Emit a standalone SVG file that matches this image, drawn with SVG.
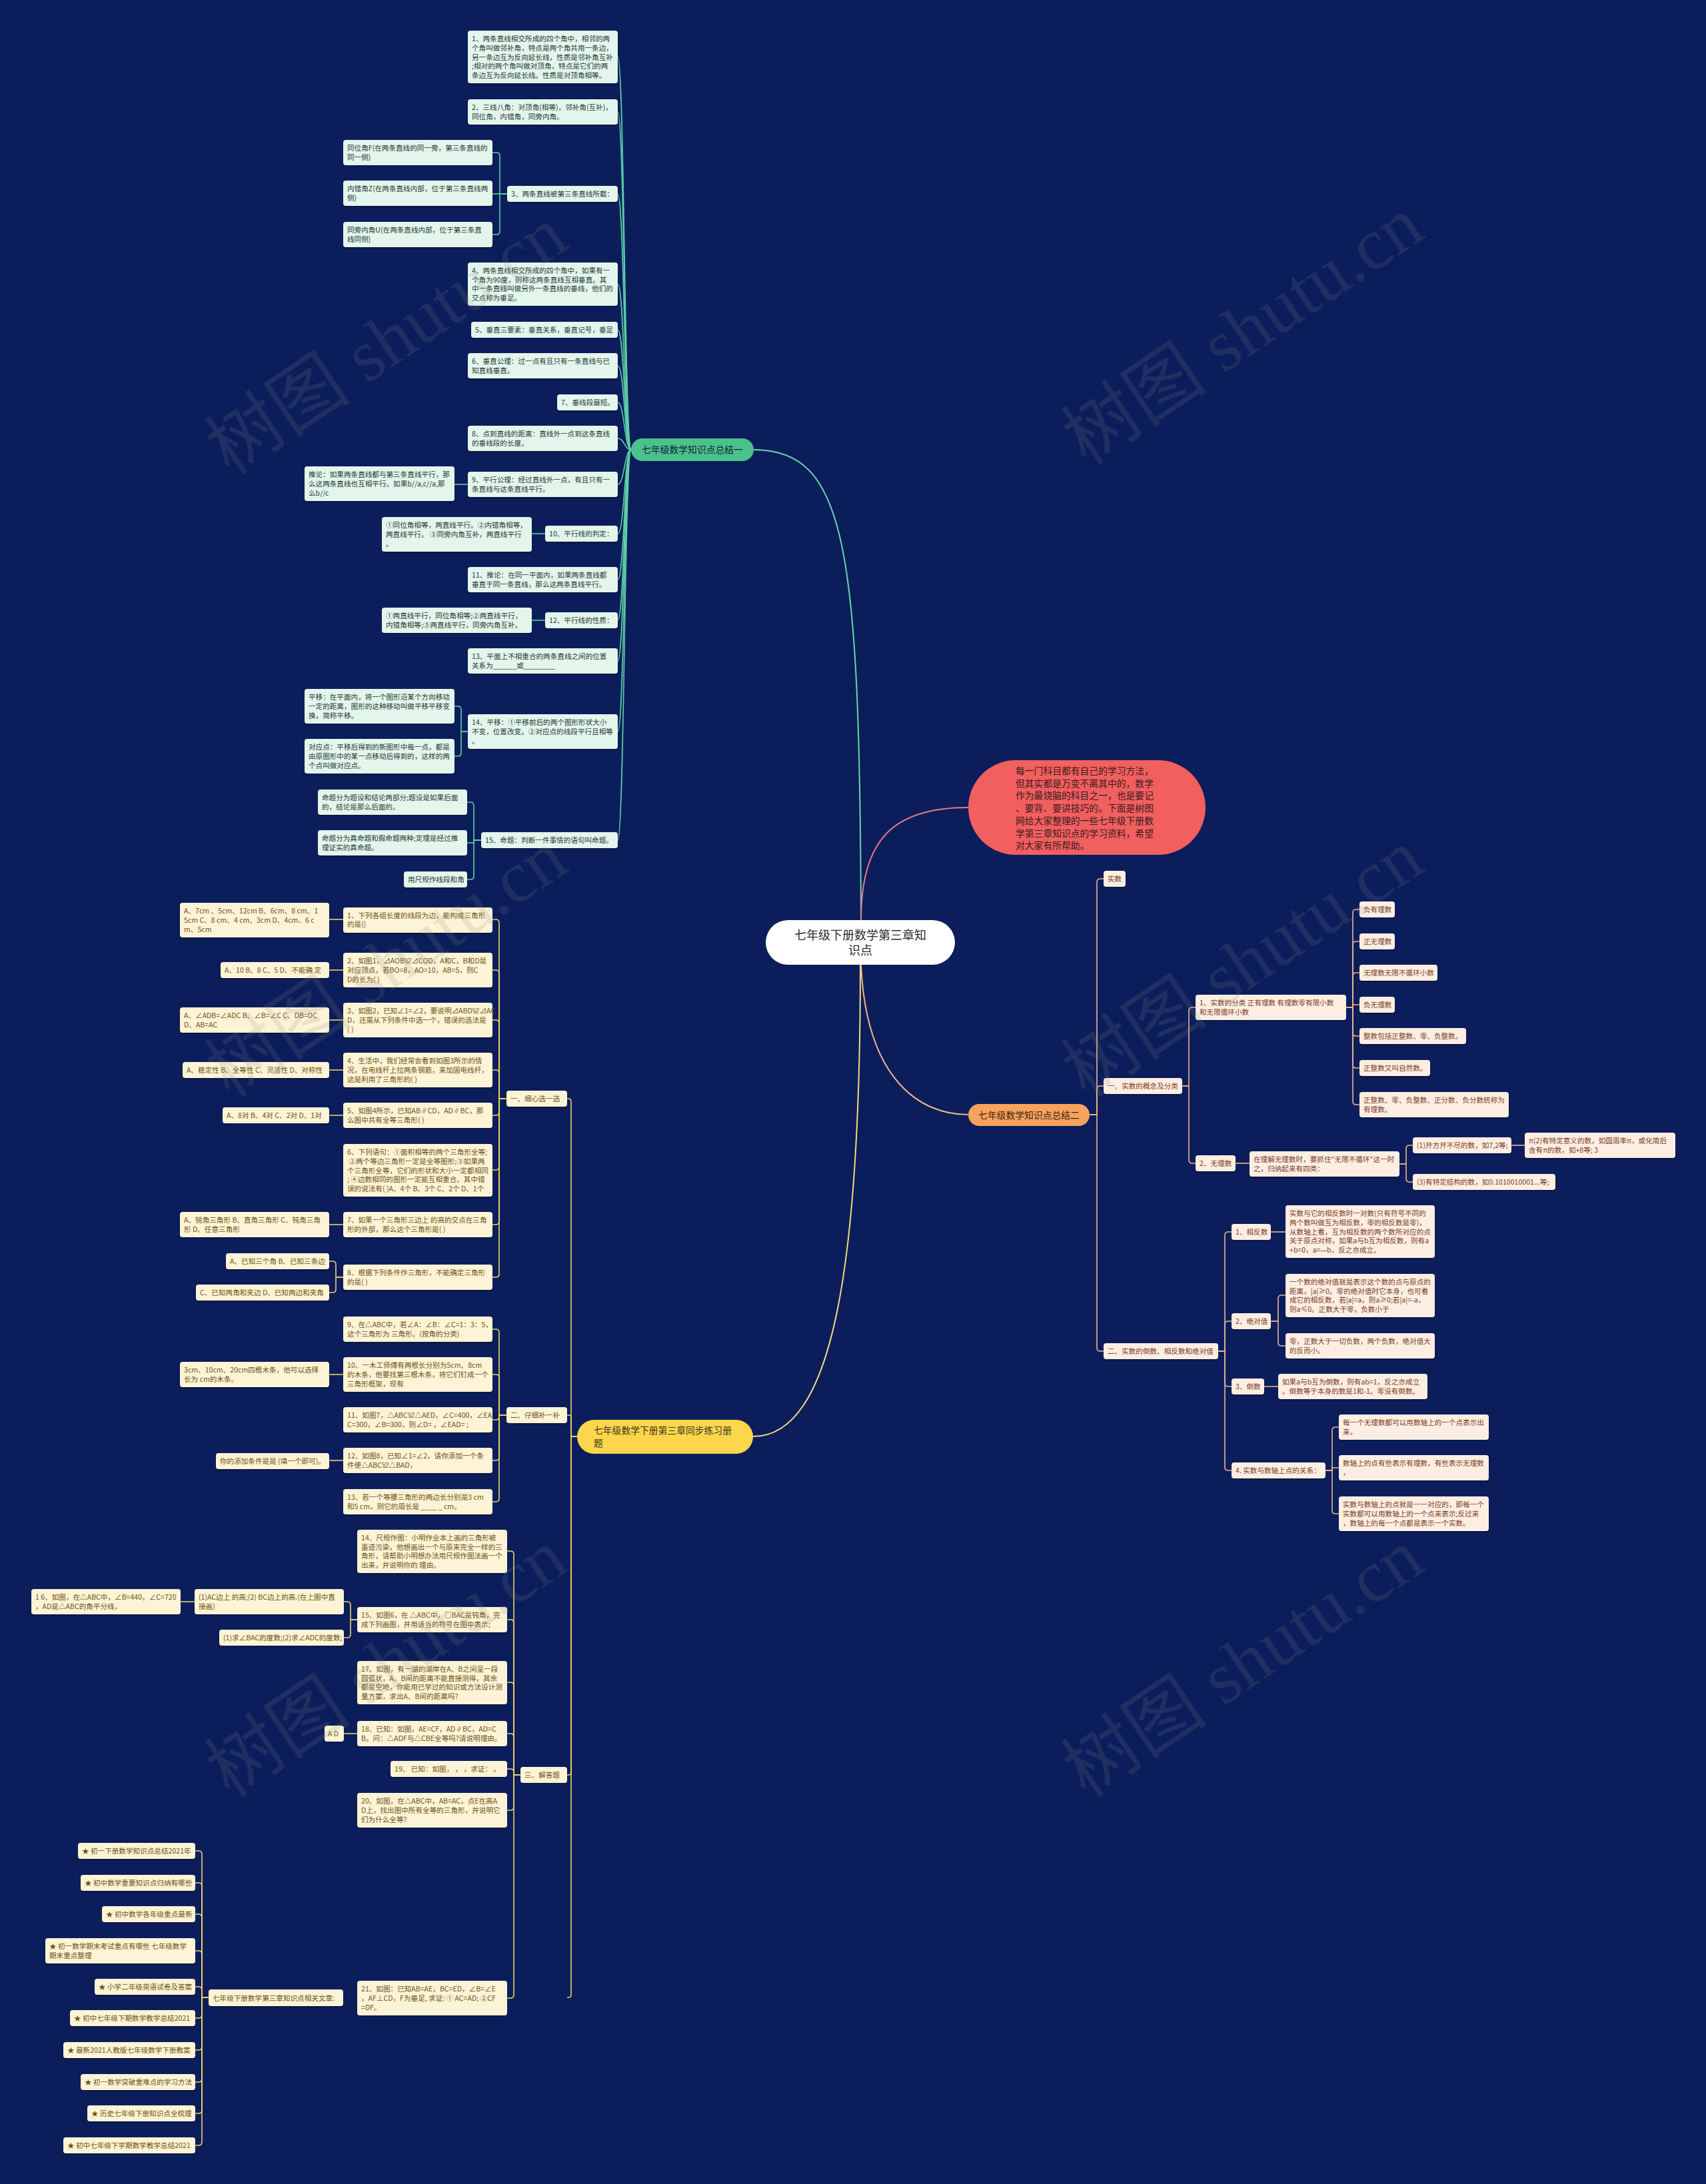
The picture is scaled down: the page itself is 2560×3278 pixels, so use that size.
<svg xmlns="http://www.w3.org/2000/svg" width="2560" height="3278" viewBox="0 0 2560 3278">
<defs>
<filter id="sh" x="-5%" y="-20%" width="110%" height="150%"><feDropShadow dx="0" dy="1.5" stdDeviation="1" flood-color="#000" flood-opacity="0.35"/></filter>
<style>
text{font-family:"Noto Sans CJK SC","Noto Sans",sans-serif;font-size:10.6px}
rect.g,rect.y,rect.o{filter:url(#sh)}
.g{fill:#e4f5ec}.gt{fill:#1d3b36}
.y{fill:#fdf3d6}.yt{fill:#6b5414}
.o{fill:#fdeee3}.ot{fill:#7a3e1e}
.big{font-size:13.8px}
.cg{fill:none;stroke:#5fcfa6;stroke-width:1.6}
.cy{fill:none;stroke:#efd06a;stroke-width:1.6}
.co{fill:none;stroke:#eeb38e;stroke-width:1.6}
.wm{font-family:"Liberation Serif","Noto Sans CJK SC",serif;font-size:110px;fill:#8a8a8a;opacity:0.16}
</style>
</defs>
<rect x="0" y="0" width="2560" height="3278" fill="#0b1e5b"/>

<g id="connectors">
<path d="M1292 1381 C1290 820 1270 675 1131 675" fill="none" stroke="#6ad4b0" stroke-width="2"/>
<path d="M1292 1381 C1292 1260 1340 1212 1453 1212" fill="none" stroke="#e8788a" stroke-width="2"/>
<path d="M1292 1448 C1300 1620 1380 1673 1453 1673" fill="none" stroke="#f3b58c" stroke-width="2"/>
<path d="M1291 1448 C1291 1900 1250 2156 1130 2156" fill="none" stroke="#f5dc7a" stroke-width="2"/>
<g class="cg">
<path d="M947 675 C937 675 937 85.5 927 85.5"/>
<path d="M947 675 C937 675 937 168 927 168"/>
<path d="M947 675 C937 675 937 291 927 291"/>
<path d="M947 675 C937 675 937 426.5 927 426.5"/>
<path d="M947 675 C937 675 937 495 927 495"/>
<path d="M947 675 C937 675 937 549 927 549"/>
<path d="M947 675 C937 675 937 604 927 604"/>
<path d="M947 675 C937 675 937 658 927 658"/>
<path d="M947 675 C937 675 937 727 927 727"/>
<path d="M947 675 C937 675 937 801 927 801"/>
<path d="M947 675 C937 675 937 870 927 870"/>
<path d="M947 675 C937 675 937 931 927 931"/>
<path d="M947 675 C937 675 937 992 927 992"/>
<path d="M947 675 C937 675 937 1098 927 1098"/>
<path d="M947 675 C937 675 937 1261 927 1261"/>
<path d="M761 291 H750 V234 Q750 229 745 229 H739"/>
<path d="M761 291 H739"/>
<path d="M761 291 H750 V347 Q750 352 745 352 H739"/>
<path d="M702 727 H682"/>
<path d="M818 801 H798"/>
<path d="M818 931 H798"/>
<path d="M702 1098 H692 V1065 Q692 1060 687 1060 H682"/>
<path d="M702 1098 H692 V1130 Q692 1135 687 1135 H682"/>
<path d="M722 1261 H711 V1209 Q711 1204 706 1204 H701"/>
<path d="M722 1261 H711 V1265 H701"/>
<path d="M722 1261 H711 V1315 Q711 1320 706 1320 H701"/>
</g>
<g class="co">
<path d="M1635 1673 H1646 V1324 Q1646 1319 1651 1319 H1656"/>
<path d="M1635 1673 H1646 V1635 Q1646 1630 1651 1630 H1656"/>
<path d="M1635 1673 H1646 V2023 Q1646 2028 1651 2028 H1656"/>
<path d="M1774 1630 H1784 V1517 Q1784 1512 1789 1512 H1794"/>
<path d="M1774 1630 H1784 V1741 Q1784 1746 1789 1746 H1794"/>
<path d="M2020 1512 H2030 V1370 Q2030 1365 2035 1365 H2040"/>
<path d="M2020 1512 H2030 V1418 Q2030 1413 2035 1413 H2040"/>
<path d="M2020 1512 H2030 V1465 Q2030 1460 2035 1460 H2040"/>
<path d="M2020 1512 H2030 V1508 H2040"/>
<path d="M2020 1512 H2030 V1550 Q2030 1555 2035 1555 H2040"/>
<path d="M2020 1512 H2030 V1598 Q2030 1603 2035 1603 H2040"/>
<path d="M2020 1512 H2030 V1653 Q2030 1658 2035 1658 H2040"/>
<path d="M1854 1746 H1875"/>
<path d="M2100 1747 H2110 V1724 Q2110 1719 2115 1719 H2120"/>
<path d="M2100 1747 H2110 V1769 Q2110 1774 2115 1774 H2120"/>
<path d="M2268 1719 H2288"/>
<path d="M1828 2028 H1838 V1854 Q1838 1849 1843 1849 H1848"/>
<path d="M1828 2028 H1838 V1988 Q1838 1983 1843 1983 H1848"/>
<path d="M1828 2028 H1838 V2076 Q1838 2081 1843 2081 H1848"/>
<path d="M1828 2028 H1838 V2202 Q1838 2207 1843 2207 H1848"/>
<path d="M1907 1849 H1929"/>
<path d="M1907 1983 H1918 V1949 Q1918 1944 1923 1944 H1929"/>
<path d="M1907 1983 H1918 V2015 Q1918 2020 1923 2020 H1929"/>
<path d="M1897 2081 H1918"/>
<path d="M1989 2207 H1999 V2147 Q1999 2142 2004 2142 H2009"/>
<path d="M1989 2207 H1999 V2203 H2009"/>
<path d="M1989 2207 H1999 V2267 Q1999 2272 2004 2272 H2009"/>
</g>
<g class="cy">
<path d="M866 2156 H857 V1653 Q857 1649 853 1649 H851"/>
<path d="M866 2156 H857 V2128 Q857 2124 853 2124 H851"/>
<path d="M866 2156 H857 V2660 Q857 2664 853 2664 H851"/>
<path d="M866 2156 H857 V2994 Q857 2998 853 2998 H851"/>
<path d="M760 1649 H749 V1385 Q749 1380 744 1380 H739"/>
<path d="M760 1649 H749 V1461 Q749 1456 744 1456 H739"/>
<path d="M760 1649 H749 V1536 Q749 1531 744 1531 H739"/>
<path d="M760 1649 H749 V1611 Q749 1606 744 1606 H739"/>
<path d="M760 1649 H749 V1669 Q749 1674 744 1674 H739"/>
<path d="M760 1649 H749 V1751 Q749 1756 744 1756 H739"/>
<path d="M760 1649 H749 V1833 Q749 1838 744 1838 H739"/>
<path d="M760 1649 H749 V1912 Q749 1917 744 1917 H739"/>
<path d="M515 1380 H494"/>
<path d="M515 1456 H494"/>
<path d="M515 1531 H494"/>
<path d="M515 1606 H494"/>
<path d="M515 1674 H494"/>
<path d="M515 1838 H494"/>
<path d="M515 1917 H504 V1898 Q504 1893 499 1893 H494"/>
<path d="M515 1917 H504 V1935 Q504 1940 499 1940 H494"/>
<path d="M760 2124 H749 V2000 Q749 1995 744 1995 H739"/>
<path d="M760 2124 H749 V2068 Q749 2063 744 2063 H739"/>
<path d="M760 2124 H749 V2126 Q749 2131 744 2131 H739"/>
<path d="M760 2124 H749 V2187 Q749 2192 744 2192 H739"/>
<path d="M760 2124 H749 V2249 Q749 2254 744 2254 H739"/>
<path d="M515 2063 H494"/>
<path d="M515 2192 H494"/>
<path d="M781 2664 H771 V2333 Q771 2328 766 2328 H761"/>
<path d="M781 2664 H771 V2436 Q771 2431 766 2431 H761"/>
<path d="M781 2664 H771 V2530 Q771 2525 766 2525 H761"/>
<path d="M781 2664 H771 V2607 Q771 2602 766 2602 H761"/>
<path d="M781 2664 H771 V2660 Q771 2655 766 2655 H761"/>
<path d="M781 2664 H771 V2712 Q771 2717 766 2717 H761"/>
<path d="M781 2664 H771 V2994 Q771 2999 766 2999 H761"/>
<path d="M536 2431 H526 V2409 Q526 2404 521 2404 H516"/>
<path d="M536 2431 H526 V2453 Q526 2458 521 2458 H516"/>
<path d="M292 2404 H271"/>
<path d="M536 2602 H516"/>
<path d="M313 2998 H303 V2783 Q303 2778 298 2778 H293"/>
<path d="M313 2998 H303 V2831 Q303 2826 298 2826 H293"/>
<path d="M313 2998 H303 V2878 Q303 2873 298 2873 H293"/>
<path d="M313 2998 H303 V2933 Q303 2928 298 2928 H293"/>
<path d="M313 2998 H303 V2987 Q303 2982 298 2982 H293"/>
<path d="M313 2998 H303 V3024 Q303 3029 298 3029 H293"/>
<path d="M313 2998 H303 V3072 Q303 3077 298 3077 H293"/>
<path d="M313 2998 H303 V3120 Q303 3125 298 3125 H293"/>
<path d="M313 2998 H303 V3167 Q303 3172 298 3172 H293"/>
<path d="M313 2998 H303 V3215 Q303 3220 298 3220 H293"/>
</g>
</g>

<g id="center"><rect x="1149" y="1381" width="284" height="67" rx="33.5" fill="#ffffff"/><text text-anchor="middle" style="font-size:18px" fill="#2a2a2a"><tspan x="1291" y="1409.5">七年级下册数学第三章知</tspan><tspan x="1291" y="1432.5">识点</tspan></text></g>

<g id="intro"><rect x="1453" y="1141" width="356" height="142" rx="71" fill="#f25f5f"/><text class="big" fill="#3a1a1e"><tspan x="1524" y="1162">每一门科目都有自己的学习方法，</tspan><tspan x="1524" y="1180.7">但其实都是万变不离其中的，数学</tspan><tspan x="1524" y="1199.4">作为最烧脑的科目之一，也是要记</tspan><tspan x="1524" y="1218.1">、要背、要讲技巧的。下面是树图</tspan><tspan x="1524" y="1236.8">网给大家整理的一些七年级下册数</tspan><tspan x="1524" y="1255.5">学第三章知识点的学习资料，希望</tspan><tspan x="1524" y="1274.2">对大家有所帮助。</tspan></text></g>

<g id="branch-green"><rect x="947" y="658" width="184" height="34" rx="17" fill="#4bc18c"/><text class="big" text-anchor="middle" fill="#10233a"><tspan x="1039" y="680.2">七年级数学知识点总结一</tspan></text></g>
<g id="branch-orange"><rect x="1453" y="1657" width="182" height="33" rx="16.5" fill="#f7a35e"/><text class="big" text-anchor="middle" fill="#3f230e"><tspan x="1544" y="1678.7">七年级数学知识点总结二</tspan></text></g>
<g id="branch-yellow"><rect x="866" y="2131" width="264" height="51" rx="25.5" fill="#fdd64b"/><text class="big" fill="#3b3320"><tspan x="891" y="2152">七年级数学下册第三章同步练习册</tspan><tspan x="891" y="2171">题</tspan></text></g>

<!-- green items -->
<g id="g1"><rect class="g" x="702" y="46" width="225" height="79" rx="4"/><text class="gt"><tspan x="708" y="61.9">1、两条直线相交所成的四个角中，相邻的两</tspan><tspan x="708" y="75.7">个角叫做邻补角，特点是两个角共用一条边，</tspan><tspan x="708" y="89.5">另一条边互为反向延长线，性质是邻补角互补</tspan><tspan x="708" y="103.3">;相对的两个角叫做对顶角，特点是它们的两</tspan><tspan x="708" y="117.1">条边互为反向延长线。性质是对顶角相等。</tspan></text></g>
<g id="g2"><rect class="g" x="702" y="149" width="225" height="38" rx="4"/><text class="gt"><tspan x="708" y="165.1">2、三线八角：对顶角(相等)，邻补角(互补)，</tspan><tspan x="708" y="178.9">同位角，内错角，同旁内角。</tspan></text></g>
<g id="g3"><rect class="g" x="761" y="279" width="166" height="24" rx="4"/><text class="gt"><tspan x="767" y="295">3、两条直线被第三条直线所截：</tspan></text></g>
<g id="g3a"><rect class="g" x="515" y="210" width="224" height="38" rx="4"/><text class="gt"><tspan x="521" y="226.1">同位角F(在两条直线的同一旁，第三条直线的</tspan><tspan x="521" y="239.9">同一侧)</tspan></text></g>
<g id="g3b"><rect class="g" x="515" y="271" width="224" height="38" rx="4"/><text class="gt"><tspan x="521" y="287.1">内错角Z(在两条直线内部，位于第三条直线两</tspan><tspan x="521" y="300.9">侧)</tspan></text></g>
<g id="g3c"><rect class="g" x="515" y="333" width="224" height="38" rx="4"/><text class="gt"><tspan x="521" y="349.1">同旁内角U(在两条直线内部，位于第三条直</tspan><tspan x="521" y="362.9">线同侧)</tspan></text></g>
<g id="g4"><rect class="g" x="702" y="394" width="225" height="65" rx="4"/><text class="gt"><tspan x="708" y="409.8">4、两条直线相交所成的四个角中，如果有一</tspan><tspan x="708" y="423.6">个角为90度，则称这两条直线互相垂直。其</tspan><tspan x="708" y="437.4">中一条直线叫做另外一条直线的垂线，他们的</tspan><tspan x="708" y="451.2">交点称为垂足。</tspan></text></g>
<g id="g5"><rect class="g" x="707" y="483" width="220" height="24" rx="4"/><text class="gt"><tspan x="713" y="499">5、垂直三要素：垂直关系，垂直记号，垂足</tspan></text></g>
<g id="g6"><rect class="g" x="702" y="530" width="225" height="38" rx="4"/><text class="gt"><tspan x="708" y="546.1">6、垂直公理：过一点有且只有一条直线与已</tspan><tspan x="708" y="559.9">知直线垂直。</tspan></text></g>
<g id="g7"><rect class="g" x="836" y="592" width="91" height="24" rx="4"/><text class="gt"><tspan x="842" y="608">7、垂线段最短。</tspan></text></g>
<g id="g8"><rect class="g" x="702" y="639" width="225" height="38" rx="4"/><text class="gt"><tspan x="708" y="655.1">8、点到直线的距离：直线外一点到这条直线</tspan><tspan x="708" y="668.9">的垂线段的长度。</tspan></text></g>
<g id="g9"><rect class="g" x="702" y="708" width="225" height="38" rx="4"/><text class="gt"><tspan x="708" y="724.1">9、平行公理：经过直线外一点，有且只有一</tspan><tspan x="708" y="737.9">条直线与这条直线平行。</tspan></text></g>
<g id="g9a"><rect class="g" x="457" y="700" width="225" height="52" rx="4"/><text class="gt"><tspan x="463" y="716.2">推论：如果两条直线都与第三条直线平行，那</tspan><tspan x="463" y="730">么这两条直线也互相平行。如果b//a,c//a,那</tspan><tspan x="463" y="743.8">么b//c</tspan></text></g>
<g id="g10"><rect class="g" x="818" y="789" width="109" height="24" rx="4"/><text class="gt"><tspan x="824" y="805">10、平行线的判定：</tspan></text></g>
<g id="g10a"><rect class="g" x="573" y="776" width="225" height="52" rx="4"/><text class="gt"><tspan x="579" y="792.2">①同位角相等，两直线平行。②内错角相等，</tspan><tspan x="579" y="806">两直线平行。 ③同旁内角互补，两直线平行</tspan><tspan x="579" y="819.8">。</tspan></text></g>
<g id="g11"><rect class="g" x="702" y="851" width="225" height="38" rx="4"/><text class="gt"><tspan x="708" y="867.1">11、推论：在同一平面内，如果两条直线都</tspan><tspan x="708" y="880.9">垂直于同一条直线，那么这两条直线平行。</tspan></text></g>
<g id="g12"><rect class="g" x="818" y="919" width="109" height="24" rx="4"/><text class="gt"><tspan x="824" y="935">12、平行线的性质：</tspan></text></g>
<g id="g12a"><rect class="g" x="573" y="912" width="225" height="38" rx="4"/><text class="gt"><tspan x="579" y="928.1">①两直线平行，同位角相等;②两直线平行，</tspan><tspan x="579" y="941.9">内错角相等;③两直线平行，同旁内角互补。</tspan></text></g>
<g id="g13"><rect class="g" x="702" y="973" width="225" height="38" rx="4"/><text class="gt"><tspan x="708" y="989.1">13、平面上不相重合的两条直线之间的位置</tspan><tspan x="708" y="1002.9">关系为______或________</tspan></text></g>
<g id="g14"><rect class="g" x="702" y="1072" width="225" height="52" rx="4"/><text class="gt"><tspan x="708" y="1088.2">14、平移：①平移前后的两个图形形状大小</tspan><tspan x="708" y="1102">不变，位置改变。②对应点的线段平行且相等</tspan><tspan x="708" y="1115.8">。</tspan></text></g>
<g id="g14a"><rect class="g" x="457" y="1034" width="225" height="52" rx="4"/><text class="gt"><tspan x="463" y="1050.2">平移：在平面内，将一个图形沿某个方向移动</tspan><tspan x="463" y="1064">一定的距离，图形的这种移动叫做平移平移变</tspan><tspan x="463" y="1077.8">换，简称平移。</tspan></text></g>
<g id="g14b"><rect class="g" x="457" y="1109" width="225" height="52" rx="4"/><text class="gt"><tspan x="463" y="1125.2">对应点：平移后得到的新图形中每一点，都是</tspan><tspan x="463" y="1139">由原图形中的某一点移动后得到的，这样的两</tspan><tspan x="463" y="1152.8">个点叫做对应点。</tspan></text></g>
<g id="g15"><rect class="g" x="722" y="1249" width="205" height="24" rx="4"/><text class="gt"><tspan x="728" y="1265">15、命题：判断一件事情的语句叫命题。</tspan></text></g>
<g id="g15a"><rect class="g" x="477" y="1185" width="224" height="38" rx="4"/><text class="gt"><tspan x="483" y="1201.1">命题分为题设和结论两部分;题设是如果后面</tspan><tspan x="483" y="1214.9">的，结论是那么后面的。</tspan></text></g>
<g id="g15b"><rect class="g" x="477" y="1246" width="224" height="38" rx="4"/><text class="gt"><tspan x="483" y="1262.1">命题分为真命题和假命题两种;定理是经过推</tspan><tspan x="483" y="1275.9">理证实的真命题。</tspan></text></g>
<g id="g15c"><rect class="g" x="606" y="1308" width="95" height="24" rx="4"/><text class="gt"><tspan x="612" y="1324">用尺规作线段和角</tspan></text></g>

<!-- yellow items -->
<g id="y1"><rect class="y" x="760" y="1637" width="91" height="24" rx="4"/><text class="yt"><tspan x="766" y="1653">一、细心选一选</tspan></text></g>
<g id="y1-1"><rect class="y" x="515" y="1362" width="224" height="38" rx="4"/><text class="yt"><tspan x="521" y="1377.6">1、下列各组长度的线段为边，能构成三角形</tspan><tspan x="521" y="1391.4">的是()</tspan></text></g>
<g id="y1-1a"><rect class="y" x="270" y="1355" width="224" height="52" rx="4"/><text class="yt"><tspan x="276" y="1371.2">A、7cm 、5cm、12cm B、6cm、8 cm、1</tspan><tspan x="276" y="1385">5cm C、8 cm、4 cm、3cm D、4cm、6 c</tspan><tspan x="276" y="1398.8">m、5cm</tspan></text></g>
<g id="y1-2"><rect class="y" x="515" y="1430" width="224" height="52" rx="4"/><text class="yt"><tspan x="521" y="1446.2">2、如图1，⊿AOB≌⊿COD，A和C，B和D是</tspan><tspan x="521" y="1460">对应顶点，若BO=8，AO=10，AB=5，则C</tspan><tspan x="521" y="1473.8">D的长为( )</tspan></text></g>
<g id="y1-2a"><rect class="y" x="331" y="1444" width="163" height="24" rx="4"/><text class="yt"><tspan x="337" y="1460">A、10 B、8 C、5 D、不能确 定</tspan></text></g>
<g id="y1-3"><rect class="y" x="515" y="1505" width="224" height="52" rx="4"/><text class="yt"><tspan x="521" y="1521.2">3、如图2，已知∠1=∠2，要说明⊿ABD≌⊿AC</tspan><tspan x="521" y="1535">D，还需从下列条件中选一个，错误的选法是</tspan><tspan x="521" y="1548.8">( )</tspan></text></g>
<g id="y1-3a"><rect class="y" x="270" y="1512" width="224" height="38" rx="4"/><text class="yt"><tspan x="276" y="1528.1">A、∠ADB=∠ADC B、∠B=∠C C、DB=DC</tspan><tspan x="276" y="1541.9">D、AB=AC</tspan></text></g>
<g id="y1-4"><rect class="y" x="515" y="1580" width="224" height="52" rx="4"/><text class="yt"><tspan x="521" y="1596.2">4、生活中，我们经常会看到如图3所示的情</tspan><tspan x="521" y="1610">况，在电线杆上拉两条钢筋，来加固电线杆，</tspan><tspan x="521" y="1623.8">这是利用了三角形的( )</tspan></text></g>
<g id="y1-4a"><rect class="y" x="274" y="1594" width="220" height="24" rx="4"/><text class="yt"><tspan x="280" y="1610">A、稳定性 B、全等性 C、灵活性 D、对称性</tspan></text></g>
<g id="y1-5"><rect class="y" x="515" y="1655" width="224" height="38" rx="4"/><text class="yt"><tspan x="521" y="1671.1">5、如图4所示，已知AB∥CD，AD∥BC，那</tspan><tspan x="521" y="1684.9">么图中共有全等三角形( )</tspan></text></g>
<g id="y1-5a"><rect class="y" x="334" y="1662" width="160" height="24" rx="4"/><text class="yt"><tspan x="340" y="1678">A、8对 B、4对 C、2对 D、1对</tspan></text></g>
<g id="y1-6"><rect class="y" x="515" y="1717" width="224" height="79" rx="4"/><text class="yt"><tspan x="521" y="1732.9">6、下列语句：①面积相等的两个三角形全等;</tspan><tspan x="521" y="1746.7"> ②两个等边三角形一定是全等图形;③如果两</tspan><tspan x="521" y="1760.5">个三角形全等，它们的形状和大小一定都相同</tspan><tspan x="521" y="1774.3">; ④边数相同的图形一定能互相重合。其中错</tspan><tspan x="521" y="1788.1">误的说法有( )A、4个 B、3个 C、2个 D、1个</tspan></text></g>
<g id="y1-7"><rect class="y" x="515" y="1819" width="224" height="38" rx="4"/><text class="yt"><tspan x="521" y="1835.1">7、如果一个三角形三边上 的高的交点在三角</tspan><tspan x="521" y="1848.9">形的外部，那么这个三角形是( )</tspan></text></g>
<g id="y1-7a"><rect class="y" x="270" y="1819" width="224" height="38" rx="4"/><text class="yt"><tspan x="276" y="1835.1">A、锐角三角形 B、直角三角形 C、钝角三角</tspan><tspan x="276" y="1848.9">形 D、任意三角形</tspan></text></g>
<g id="y1-8"><rect class="y" x="515" y="1898" width="224" height="38" rx="4"/><text class="yt"><tspan x="521" y="1914.1">8、根据下列条件作三角形，不能确定三角形</tspan><tspan x="521" y="1927.9">的是( )</tspan></text></g>
<g id="y1-8a"><rect class="y" x="339" y="1881" width="155" height="24" rx="4"/><text class="yt"><tspan x="345" y="1897">A、已知三个角 B、已知三条边</tspan></text></g>
<g id="y1-8b"><rect class="y" x="294" y="1928" width="200" height="24" rx="4"/><text class="yt"><tspan x="300" y="1944">C、已知两角和夹边 D、已知两边和夹角</tspan></text></g>

<g id="y2"><rect class="y" x="760" y="2112" width="91" height="24" rx="4"/><text class="yt"><tspan x="766" y="2128">二、仔细补一补</tspan></text></g>
<g id="y2-9"><rect class="y" x="515" y="1976" width="224" height="38" rx="4"/><text class="yt"><tspan x="521" y="1992.1">9、在△ABC中，若∠A：∠B：∠C=1：3：5，</tspan><tspan x="521" y="2005.9">这个三角形为 三角形。(按角的分类)</tspan></text></g>
<g id="y2-10"><rect class="y" x="515" y="2037" width="224" height="52" rx="4"/><text class="yt"><tspan x="521" y="2053.2">10、一木工师傅有两根长分别为5cm、8cm</tspan><tspan x="521" y="2067">的木条，他要找第三根木条，将它们钉成一个</tspan><tspan x="521" y="2080.8">三角形框架，现有</tspan></text></g>
<g id="y2-10a"><rect class="y" x="270" y="2044" width="224" height="38" rx="4"/><text class="yt"><tspan x="276" y="2060.1">3cm、10cm、20cm四根木条，他可以选择</tspan><tspan x="276" y="2073.9">长为 cm的木条。</tspan></text></g>
<g id="y2-11"><rect class="y" x="515" y="2112" width="224" height="38" rx="4"/><text class="yt"><tspan x="521" y="2128.1">11、如图7，△ABC≌△AED，∠C=400，∠EA</tspan><tspan x="521" y="2141.9">C=300，∠B=300，则∠D= ，∠EAD= ;</tspan></text></g>
<g id="y2-12"><rect class="y" x="515" y="2173" width="224" height="38" rx="4"/><text class="yt"><tspan x="521" y="2189.1">12、如图8，已知∠1=∠2，请你添加一个条</tspan><tspan x="521" y="2202.9">件使△ABC≌△BAD，</tspan></text></g>
<g id="y2-12a"><rect class="y" x="324" y="2181" width="170" height="24" rx="4"/><text class="yt"><tspan x="330" y="2197">你的添加条件是是 (填一个即可)。</tspan></text></g>
<g id="y2-13"><rect class="y" x="515" y="2235" width="224" height="38" rx="4"/><text class="yt"><tspan x="521" y="2251.1">13、若一个等腰三角形的两边长分别是3 cm</tspan><tspan x="521" y="2264.9">和5 cm，则它的周长是 ____ _ cm。</tspan></text></g>

<g id="y3"><rect class="y" x="781" y="2652" width="70" height="24" rx="4"/><text class="yt"><tspan x="787" y="2668">三、解答题</tspan></text></g>
<g id="y3-14"><rect class="y" x="536" y="2296" width="225" height="65" rx="4"/><text class="yt"><tspan x="542" y="2311.8">14、尺规作图：小明作业本上画的三角形被</tspan><tspan x="542" y="2325.6">墨迹污染，他想画出一个与原来完全一样的三</tspan><tspan x="542" y="2339.4">角形，请帮助小明想办法用尺规作图法画一个</tspan><tspan x="542" y="2353.2">出来，并说明你的 理由。</tspan></text></g>
<g id="y3-15"><rect class="y" x="536" y="2412" width="225" height="38" rx="4"/><text class="yt"><tspan x="542" y="2428.1">15、如图6，在 △ABC中，□BAC是钝角，完</tspan><tspan x="542" y="2441.9">成下列画图，并用适当的符号在图中表示;</tspan></text></g>
<g id="y3-15a"><rect class="y" x="292" y="2385" width="224" height="38" rx="4"/><text class="yt"><tspan x="298" y="2401.1">(1)AC边上 的高;(2) BC边上的高.(在上图中直</tspan><tspan x="298" y="2414.9">接画)</tspan></text></g>
<g id="y3-15b"><rect class="y" x="329" y="2446" width="187" height="24" rx="4"/><text class="yt"><tspan x="335" y="2462">(1)求∠BAC的度数;(2)求∠ADC的度数;</tspan></text></g>
<g id="y3-16"><rect class="y" x="47" y="2385" width="224" height="38" rx="4"/><text class="yt"><tspan x="53" y="2401.1">1 6、如图，在△ABC中，∠B=440，∠C=720</tspan><tspan x="53" y="2414.9">，AD是△ABC的角平分线，</tspan></text></g>
<g id="y3-17"><rect class="y" x="536" y="2493" width="225" height="65" rx="4"/><text class="yt"><tspan x="542" y="2508.8">17、如图，有一湖的湖岸在A、B之间呈一段</tspan><tspan x="542" y="2522.6">圆弧状，A、B间的距离不能直接测得，其余</tspan><tspan x="542" y="2536.4">都是空地，你能用已学过的知识或方法设计测</tspan><tspan x="542" y="2550.2">量方案，求出A、B间的距离吗?</tspan></text></g>
<g id="y3-18"><rect class="y" x="536" y="2583" width="225" height="38" rx="4"/><text class="yt"><tspan x="542" y="2599.1">18、已知：如图，AE=CF，AD∥BC，AD=C</tspan><tspan x="542" y="2612.9">B。问：△ADF与△CBE全等吗?请说明理由。</tspan></text></g>
<g id="y3-18a"><rect class="y" x="487" y="2590" width="29" height="24" rx="4"/><text class="yt"><tspan x="492" y="2606">A D</tspan></text></g>
<g id="y3-19"><rect class="y" x="586" y="2643" width="175" height="24" rx="4"/><text class="yt"><tspan x="592" y="2659">19、 已知：如图， ， ，求证： 。</tspan></text></g>
<g id="y3-20"><rect class="y" x="536" y="2691" width="225" height="52" rx="4"/><text class="yt"><tspan x="542" y="2707.2">20、如图，在△ABC中，AB=AC，点E在高A</tspan><tspan x="542" y="2721">D上，找出图中所有全等的三角形，并说明它</tspan><tspan x="542" y="2734.8">们为什么全等?</tspan></text></g>
<g id="y3-21"><rect class="y" x="536" y="2973" width="225" height="52" rx="4"/><text class="yt"><tspan x="542" y="2989.2">21、如图：已知AB=AE，BC=ED，∠B=∠E</tspan><tspan x="542" y="3003">，AF⊥CD，F为垂足, 求证: ① AC=AD; ②CF</tspan><tspan x="542" y="3016.8">=DF。</tspan></text></g>

<g id="y4"><rect class="y" x="313" y="2986" width="202" height="25" rx="4"/><text class="yt"><tspan x="319" y="3002.5">七年级下册数学第三章知识点相关文章:</tspan></text></g>
<g id="l1"><rect class="y" x="117" y="2766" width="176" height="24" rx="4"/><text class="yt"><tspan x="123" y="2782">★ 初一下册数学知识点总结2021年</tspan></text></g>
<g id="l2"><rect class="y" x="121" y="2814" width="172" height="24" rx="4"/><text class="yt"><tspan x="127" y="2830">★ 初中数学重要知识点归纳有哪些</tspan></text></g>
<g id="l3"><rect class="y" x="153" y="2861" width="140" height="24" rx="4"/><text class="yt"><tspan x="159" y="2877">★ 初中数学各年级重点最新</tspan></text></g>
<g id="l4"><rect class="y" x="68" y="2909" width="225" height="38" rx="4"/><text class="yt"><tspan x="74" y="2925.1">★ 初一数学期末考试重点有哪些 七年级数学</tspan><tspan x="74" y="2938.9">期末重点整理</tspan></text></g>
<g id="l5"><rect class="y" x="142" y="2970" width="151" height="24" rx="4"/><text class="yt"><tspan x="148" y="2986">★ 小学二年级英语试卷及答案</tspan></text></g>
<g id="l6"><rect class="y" x="105" y="3017" width="188" height="24" rx="4"/><text class="yt"><tspan x="111" y="3033">★ 初中七年级下期数学教学总结2021</tspan></text></g>
<g id="l7"><rect class="y" x="95" y="3065" width="198" height="24" rx="4"/><text class="yt"><tspan x="101" y="3081">★ 最新2021人教版七年级数学下册教案</tspan></text></g>
<g id="l8"><rect class="y" x="121" y="3113" width="172" height="24" rx="4"/><text class="yt"><tspan x="127" y="3129">★ 初一数学突破重难点的学习方法</tspan></text></g>
<g id="l9"><rect class="y" x="131" y="3160" width="162" height="24" rx="4"/><text class="yt"><tspan x="137" y="3176">★ 历史七年级下册知识点全梳理</tspan></text></g>
<g id="l10"><rect class="y" x="95" y="3208" width="198" height="24" rx="4"/><text class="yt"><tspan x="101" y="3224">★ 初中七年级下学期数学教学总结2021</tspan></text></g>

<!-- orange items -->
<g id="o0"><rect class="o" x="1656" y="1307" width="33" height="24" rx="4"/><text class="ot"><tspan x="1662" y="1323">实数</tspan></text></g>
<g id="o1"><rect class="o" x="1656" y="1618" width="118" height="24" rx="4"/><text class="ot"><tspan x="1662" y="1634">一、实数的概念及分类</tspan></text></g>
<g id="o1-1"><rect class="o" x="1794" y="1493" width="226" height="38" rx="4"/><text class="ot"><tspan x="1800" y="1509.1">1、实数的分类 正有理数 有理数零有限小数</tspan><tspan x="1800" y="1522.9">和无限循环小数</tspan></text></g>
<g id="o1-1a"><rect class="o" x="2040" y="1353" width="53" height="24" rx="4"/><text class="ot"><tspan x="2046" y="1369">负有理数</tspan></text></g>
<g id="o1-1b"><rect class="o" x="2040" y="1401" width="53" height="24" rx="4"/><text class="ot"><tspan x="2046" y="1417">正无理数</tspan></text></g>
<g id="o1-1c"><rect class="o" x="2040" y="1448" width="117" height="24" rx="4"/><text class="ot"><tspan x="2046" y="1464">无理数无限不循环小数</tspan></text></g>
<g id="o1-1d"><rect class="o" x="2040" y="1496" width="53" height="24" rx="4"/><text class="ot"><tspan x="2046" y="1512">负无理数</tspan></text></g>
<g id="o1-1e"><rect class="o" x="2040" y="1543" width="160" height="24" rx="4"/><text class="ot"><tspan x="2046" y="1559">整数包括正整数、零、负整数。</tspan></text></g>
<g id="o1-1f"><rect class="o" x="2040" y="1591" width="106" height="24" rx="4"/><text class="ot"><tspan x="2046" y="1607">正整数又叫自然数。</tspan></text></g>
<g id="o1-1g"><rect class="o" x="2040" y="1639" width="224" height="38" rx="4"/><text class="ot"><tspan x="2046" y="1655.1">正整数、零、负整数、正分数、负分数统称为</tspan><tspan x="2046" y="1668.9">有理数。</tspan></text></g>
<g id="o1-2"><rect class="o" x="1794" y="1734" width="60" height="24" rx="4"/><text class="ot"><tspan x="1800" y="1750">2、无理数</tspan></text></g>
<g id="o1-2a"><rect class="o" x="1875" y="1728" width="225" height="38" rx="4"/><text class="ot"><tspan x="1881" y="1744.1">在理解无理数时，要抓住"无限不循环"这一时</tspan><tspan x="1881" y="1757.9">之，归纳起来有四类：</tspan></text></g>
<g id="o1-2b"><rect class="o" x="2120" y="1707" width="148" height="24" rx="4"/><text class="ot"><tspan x="2126" y="1723">(1)开方开不尽的数，如7,2等;</tspan></text></g>
<g id="o1-2c"><rect class="o" x="2288" y="1700" width="226" height="38" rx="4"/><text class="ot"><tspan x="2294" y="1716.1">π(2)有特定意义的数，如圆周率π，或化简后</tspan><tspan x="2294" y="1729.9">含有π的数，如+8等; 3</tspan></text></g>
<g id="o1-2d"><rect class="o" x="2120" y="1762" width="214" height="24" rx="4"/><text class="ot"><tspan x="2126" y="1778">(3)有特定结构的数，如0.1010010001...等;</tspan></text></g>
<g id="o2"><rect class="o" x="1656" y="2016" width="172" height="24" rx="4"/><text class="ot"><tspan x="1662" y="2032">二、实数的倒数、相反数和绝对值</tspan></text></g>
<g id="o2-1"><rect class="o" x="1848" y="1837" width="59" height="24" rx="4"/><text class="ot"><tspan x="1854" y="1853">1、相反数</tspan></text></g>
<g id="o2-1a"><rect class="o" x="1929" y="1809" width="224" height="79" rx="4"/><text class="ot"><tspan x="1935" y="1824.9">实数与它的相反数时一对数(只有符号不同的</tspan><tspan x="1935" y="1838.7">两个数叫做互为相反数，零的相反数是零)，</tspan><tspan x="1935" y="1852.5">从数轴上看，互为相反数的两个数所对应的点</tspan><tspan x="1935" y="1866.3">关于原点对称，如果a与b互为相反数，则有a</tspan><tspan x="1935" y="1880.1">+b=0，a=—b，反之亦成立。</tspan></text></g>
<g id="o2-2"><rect class="o" x="1848" y="1971" width="59" height="24" rx="4"/><text class="ot"><tspan x="1854" y="1987">2、绝对值</tspan></text></g>
<g id="o2-2a"><rect class="o" x="1929" y="1912" width="224" height="65" rx="4"/><text class="ot"><tspan x="1935" y="1927.8">一个数的绝对值就是表示这个数的点与原点的</tspan><tspan x="1935" y="1941.6">距离，|a|≥0。零的绝对值时它本身，也可看</tspan><tspan x="1935" y="1955.4">成它的相反数，若|a|=a，则a≥0;若|a|=-a，</tspan><tspan x="1935" y="1969.2">则a≤0。正数大于零，负数小于</tspan></text></g>
<g id="o2-2b"><rect class="o" x="1929" y="2001" width="224" height="38" rx="4"/><text class="ot"><tspan x="1935" y="2017.1">零，正数大于一切负数，两个负数，绝对值大</tspan><tspan x="1935" y="2030.9">的反而小。</tspan></text></g>
<g id="o2-3"><rect class="o" x="1848" y="2069" width="49" height="24" rx="4"/><text class="ot"><tspan x="1854" y="2085">3、倒数</tspan></text></g>
<g id="o2-3a"><rect class="o" x="1918" y="2062" width="224" height="38" rx="4"/><text class="ot"><tspan x="1924" y="2078.1">如果a与b互为倒数，则有ab=1，反之亦成立</tspan><tspan x="1924" y="2091.9">。倒数等于本身的数是1和-1。零没有倒数。</tspan></text></g>
<g id="o2-4"><rect class="o" x="1848" y="2195" width="141" height="24" rx="4"/><text class="ot"><tspan x="1854" y="2211">4. 实数与数轴上点的关系：</tspan></text></g>
<g id="o2-4a"><rect class="o" x="2009" y="2123" width="225" height="38" rx="4"/><text class="ot"><tspan x="2015" y="2139.1">每一个无理数都可以用数轴上的一个点表示出</tspan><tspan x="2015" y="2152.9">来，</tspan></text></g>
<g id="o2-4b"><rect class="o" x="2009" y="2184" width="225" height="38" rx="4"/><text class="ot"><tspan x="2015" y="2200.1">数轴上的点有些表示有理数，有些表示无理数</tspan><tspan x="2015" y="2213.9">，</tspan></text></g>
<g id="o2-4c"><rect class="o" x="2009" y="2246" width="225" height="52" rx="4"/><text class="ot"><tspan x="2015" y="2262.2">实数与数轴上的点就是一一对应的，即每一个</tspan><tspan x="2015" y="2276">实数都可以用数轴上的一个点来表示;反过来</tspan><tspan x="2015" y="2289.8">，数轴上的每一个点都是表示一个实数。</tspan></text></g>

<g id="watermarks">
<text class="wm" transform="translate(345 715) rotate(-34)">树图 shutu.cn</text>
<text class="wm" transform="translate(1630 700) rotate(-34)">树图 shutu.cn</text>
<text class="wm" transform="translate(345 1650) rotate(-34)">树图 shutu.cn</text>
<text class="wm" transform="translate(1630 1650) rotate(-34)">树图 shutu.cn</text>
<text class="wm" transform="translate(345 2700) rotate(-34)">树图 shutu.cn</text>
<text class="wm" transform="translate(1630 2700) rotate(-34)">树图 shutu.cn</text>
</g>
</svg>
